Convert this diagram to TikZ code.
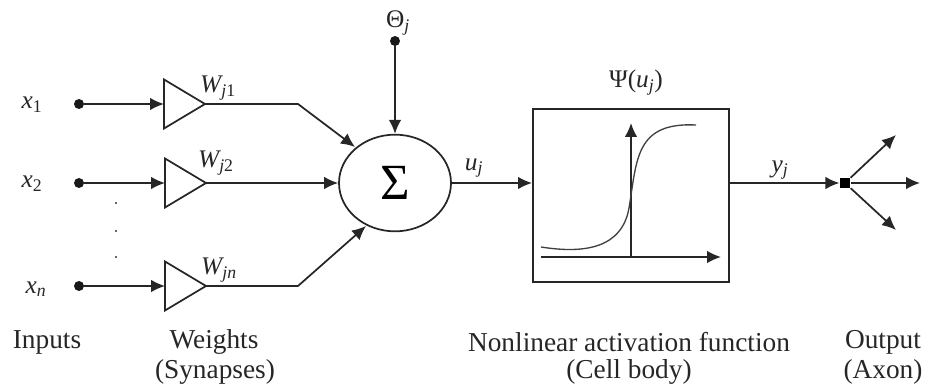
\documentclass[tikz,border=0pt]{standalone}
\usepackage{fontspec}
\setmainfont{Liberation Serif}
\usetikzlibrary{shapes.geometric,arrows.meta}
\newcommand{\ampshape}[3]{%
  \coordinate (#1w) at (#2-41,#3);
  \coordinate (#1a) at (#2,#3);
  \draw[wire,line join=miter] (#2-41,#3-24.5) -- (#2,#3) -- (#2-41,#3+24.5) -- cycle;}
\tikzset{
  wire/.style={line width=1.3pt,draw=black!85},
  arrowwire/.style={wire,-{Latex[length=10.5pt,width=9.5pt]}},
  dotnode/.style={circle,fill=black!90,minimum size=7.5pt,inner sep=0pt},
  txt/.style={font=\fontsize{20.5}{24}\selectfont,text=black!85,inner sep=0pt},
  sym/.style={font=\fontsize{19}{22}\selectfont\itshape,text=black!85,inner sep=0pt},
}
\begin{document}
\begin{tikzpicture}[x=0.75pt,y=-0.75pt]
\useasboundingbox (0,0) rectangle (928,388);
\node[dotnode] (d1) at (79,104) {};
\node[dotnode] (d2) at (79,183) {};
\node[dotnode] (d3) at (79,286) {};
\node[dotnode] (dt) at (395,41) {};
\ampshape{t1}{205}{104}
\ampshape{t2}{206}{183}
\ampshape{t3}{206}{286}
\node[draw=black!85,line width=1.3pt,ellipse,minimum width=84pt,minimum height=72.5pt,inner sep=0pt,font=\fontsize{38}{40}\selectfont] (sum) at (395,183) {Σ};
\node[draw=black!85,line width=1.5pt,minimum width=147pt,minimum height=130pt,inner sep=0pt] (box) at (631,195.5) {};
\node[fill=black,minimum size=8pt,inner sep=0pt] (sq) at (845,183) {};
\coordinate (k1) at (298,104);
\coordinate (k3) at (298,286);
\coordinate (e1) at (355,147);
\coordinate (e3) at (366,226);
\coordinate (o1) at (896,135);
\coordinate (o2) at (920,183);
\coordinate (o3) at (896,230);
\coordinate (ax0) at (541,257);
\coordinate (ax1) at (721,257);
\coordinate (ay0) at (631,257);
\coordinate (ay1) at (631,123);
\draw[arrowwire] (d1) -- (t1w);
\draw[arrowwire] (d2) -- (t2w);
\draw[arrowwire] (d3) -- (t3w);
\draw[arrowwire] (t1a) -- (k1) -- (e1);
\draw[arrowwire] (t2a) -- (sum.west);
\draw[arrowwire] (t3a) -- (k3) -- (e3);
\draw[arrowwire] (dt) -- (sum.north);
\draw[arrowwire] (sum.east) -- (box.west |- sum.east);
\draw[arrowwire] (box.east |- sq) -- (sq.west);
\draw[arrowwire] (sq) -- (o1);
\draw[arrowwire] (sq) -- (o2);
\draw[arrowwire] (sq) -- (o3);
\draw[arrowwire] (ax0) -- (ax1);
\draw[arrowwire] (ay0) -- (ay1);
\draw[line width=1pt,draw=black!75] (541,247) .. controls (585,254) and (622,248) .. (629,208) .. controls (637,160) and (635,122) .. (696,125);
\fill[black!80] (116,203) circle (0.9pt) (116,231) circle (0.9pt) (116,257) circle (0.9pt);
\node[sym] (lx1) at (32,105) {x\textsubscript{\upshape 1}};
\node[sym] (lx2) at (32,184) {x\textsubscript{\upshape 2}};
\node[sym] (lx3) at (36,289) {x\textsubscript{n}};
\node[sym] (lw1) at (218,88) {W\textsubscript{j\upshape 1}};
\node[sym] (lw2) at (216,163) {W\textsubscript{j\upshape 2}};
\node[sym] (lw3) at (219,270) {W\textsubscript{jn}};
\node[sym] (lth) at (398,23) {{\upshape Θ}\textsubscript{j}};
\node[sym] (lpsi) at (636,83) {{\upshape Ψ(}u\textsubscript{j}{\upshape )}};
\node[sym] (lu) at (474,168) {u\textsubscript{j}};
\node[sym] (ly) at (780,170) {y\textsubscript{j}};
\node[txt] (i) at (47,342) {Inputs};
\node[txt] (w) at (214,342) {Weights};
\node[txt] (s) at (215,372) {(Synapses)};
\node[txt] (n) at (629,342) {Nonlinear activation function};
\node[txt] (c) at (629,372) {(Cell body)};
\node[txt] (o) at (883,342) {Output};
\node[txt] (a) at (883,372) {(Axon)};
\end{tikzpicture}
\end{document}
